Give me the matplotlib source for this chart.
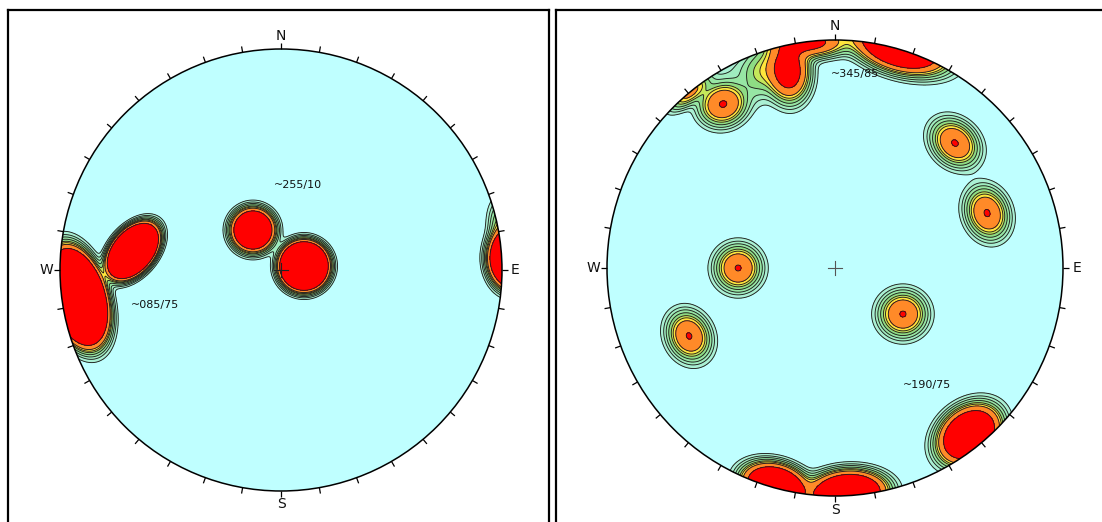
import numpy as np
import matplotlib

matplotlib.use("Agg")
import matplotlib.pyplot as plt
from matplotlib.patches import Circle

# pole clusters on the unit net: centre x/y, peak density, spread along/across major axis, axis angle (deg)
left_x = [-0.127, 0.104, -0.670, -0.919, 1.045, 0.991]
left_y = [0.181, 0.018, 0.086, -0.122, 0.054, 0.217]
left_peak = [80, 300, 400, 400, 150, 3]
left_smaj = [0.042, 0.042, 0.053, 0.083, 0.056, 0.063]
left_smin = [0.042, 0.042, 0.033, 0.045, 0.0425, 0.032]
left_ang = [0, 0, 50, -73, 90, 90]

right_x = [-0.425, -0.640, 0.298, 0.526, 0.667, -0.491, -0.206, -0.118, 0.285, 0.588, -0.262, 0.057, -0.637, -0.329, -0.439]
right_y = [0.000, -0.298, -0.202, 0.548, 0.241, 0.719, 0.868, 0.990, 0.969, -0.731, -0.955, -0.985, 0.771, 0.860, 0.868]
right_peak = [10.0, 10.0, 10.0, 10.05, 10.05, 10.1, 18, 14, 40, 45, 50, 50, 6, 3, 0.6]
right_smaj = [0.053, 0.059, 0.055, 0.061, 0.061, 0.057, 0.070, 0.088, 0.100, 0.070, 0.068, 0.078, 0.061, 0.070, 0.066]
right_smin = [0.053, 0.048, 0.053, 0.048, 0.048, 0.050, 0.048, 0.035, 0.050, 0.053, 0.044, 0.044, 0.026, 0.050, 0.050]
right_ang = [0, 115, 0, 136, 110, 20, 95, 0, -16, 39, 165, 3, 40, 80, 0]

left_notes = ["~255/10", "~085/75"]
left_note_x = [0.077, -0.570]
left_note_y = [0.385, -0.158]
right_notes = ["~345/85", "~190/75"]
right_note_x = [0.088, 0.404]
right_note_y = [0.851, -0.513]

levels = [0.44, 0.85, 1.35, 2.06, 2.98, 3.81, 5.07, 9.7, 1e6]
fills = ["#aaf0d4", "#a0ecc0", "#97e6a4", "#8edc84", "#c6e85a", "#ffe63c", "#ff8a28", "#ff0000"]
net_bg = "#bfffff"

W, H = 1102, 522


def density(gx, gy, xs, ys, peak, smaj, smin, ang):
    z = np.zeros_like(gx)
    for x, y, p, sa, sb, a in zip(xs, ys, peak, smaj, smin, ang):
        t = np.radians(a)
        dx, dy = gx - x, gy - y
        u = dx * np.cos(t) + dy * np.sin(t)
        v = -dx * np.sin(t) + dy * np.cos(t)
        z += p * np.exp(-0.5 * ((u / sa) ** 2 + (v / sb) ** 2))
    return z


def draw_net(fig, box, cx, cy, R, data, notes, cross_color):
    x0, x1, ytop, ybot = box
    ax = fig.add_axes([x0 / W, (H - ybot) / H, (x1 - x0) / W, (ybot - ytop) / H])
    ax.set_xlim((x0 - cx) / R, (x1 - cx) / R)
    ax.set_ylim((cy - ybot) / R, (cy - ytop) / R)
    ax.set_xticks([])
    ax.set_yticks([])
    for s in ax.spines.values():
        s.set_linewidth(1.6)
        s.set_color("black")

    bg = Circle((0, 0), 1, fc=net_bg, ec="none", zorder=1)
    ax.add_patch(bg)

    g = np.linspace(-1.1, 1.1, 700)
    gx, gy = np.meshgrid(g, g)
    z = density(gx, gy, *data)
    cf = ax.contourf(gx, gy, z, levels=levels, colors=fills, zorder=2)
    cf.set_clip_path(bg)
    cl = ax.contour(gx, gy, z, levels=levels[:-1], colors="#1e1e1e", linewidths=0.65, zorder=3)
    cl.set_clip_path(bg)

    ax.add_patch(Circle((0, 0), 1, fill=False, ec="black", lw=1.1, zorder=5))

    tick = 6.0 / R
    for az in range(0, 360, 10):
        a = np.radians(az)
        ax.plot([np.sin(a), (1 + tick) * np.sin(a)], [np.cos(a), (1 + tick) * np.cos(a)],
                color="black", lw=0.9, zorder=5, solid_capstyle="butt")

    rl = 1 + 13.5 / R
    for lab, az in zip("NESW", [0, 90, 180, 270]):
        a = np.radians(az)
        ax.text(rl * np.sin(a), rl * np.cos(a), lab, ha="center", va="center",
                fontsize=10, color="#111111", zorder=6)

    arm = 7.0 / R
    ax.plot([-arm, arm], [0, 0], color=cross_color, lw=0.8, zorder=4)
    ax.plot([0, 0], [-arm, arm], color=cross_color, lw=0.8, zorder=4)

    for txt, tx, ty in zip(*notes):
        ax.text(tx, ty, txt, ha="center", va="center", fontsize=8, color="#111111", zorder=6)
    return ax


fig = plt.figure(figsize=(W / 100, H / 100), dpi=100)
fig.patch.set_facecolor("white")

draw_net(fig, (8, 549, 10, 545), 281, 270, 221,
         (left_x, left_y, left_peak, left_smaj, left_smin, left_ang),
         (left_notes, left_note_x, left_note_y), "#222222")
draw_net(fig, (556, 1112, 10, 545), 835, 268, 228,
         (right_x, right_y, right_peak, right_smaj, right_smin, right_ang),
         (right_notes, right_note_x, right_note_y), "#555555")

fig.savefig("out.png", dpi=100)
